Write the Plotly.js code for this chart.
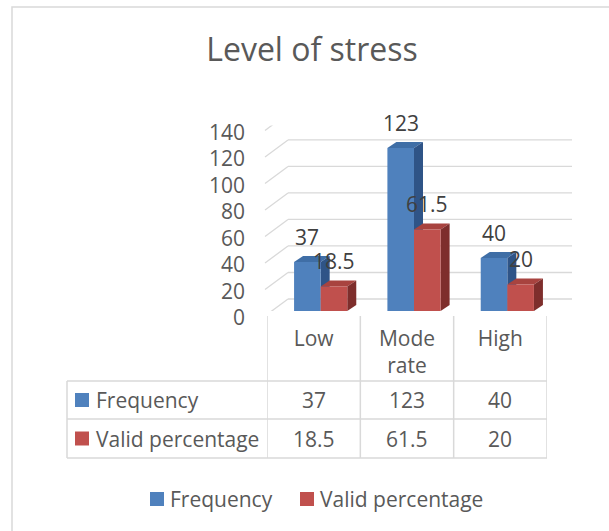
<!DOCTYPE html>
<html>
<head>
<meta charset="utf-8">
<script src="https://cdn.plot.ly/plotly-3.0.1.min.js"></script>
<style>html,body{margin:0;padding:0;background:#fff;}#chart{width:609px;height:531px;}</style>
</head>
<body>
<div id="chart"></div>
<script>
// ---- data ----
const categories = ["Low", "Mode rate", "High"];
const seriesNames = ["Frequency", "Valid percentage"];
const frequency = [37, 123, 40];
const validPercentage = [18.5, 61.5, 20];
const yTicks = [0, 20, 40, 60, 80, 100, 120, 140];
const chartTitle = "Level of stress";

// ---- style ----
const W = 609, H = 531;
const FONT = "Open Sans";
const GRAY = "#595959";
const GRID = "#d9d9d9";
const frontColors = ["#4F81BD", "#C0504D"];
const topColors = ["#3F6EA6", "#A8433F"];
const sideColors = ["#2F5487", "#7E2E2C"];
const barOffsets = [-0.21, 0.075];
const barWidth = 0.285;
const depthX = 9, depthY = 6;
const seriesValues = [frequency, validPercentage];

const px = v => v / W;
const py = v => 1 - v / H;

const traces = seriesValues.map((vals, s) => ({
  type: "bar",
  name: seriesNames[s],
  x: categories,
  y: vals,
  offset: barOffsets[s],
  width: barWidth,
  marker: { color: frontColors[s], line: { width: 0 } },
  hoverinfo: "skip",
  showlegend: false
}));

const shapes = [];
// back-wall gridlines and side-wall diagonals
yTicks.forEach(v => {
  shapes.push({ type: "line", layer: "below", xref: "paper", yref: "y", ysizemode: "pixel", yanchor: v,
    x0: px(288), x1: px(572), y0: 12, y1: 12, line: { color: GRID, width: 1.3 } });
  shapes.push({ type: "line", layer: "below", xref: "paper", yref: "y", ysizemode: "pixel", yanchor: v,
    x0: px(265), x1: px(288), y0: -5, y1: 12, line: { color: GRID, width: 1.3 } });
});
// outer chart border
shapes.push({ type: "rect", layer: "below", xref: "paper", yref: "paper",
  x0: px(12), x1: px(640), y0: py(7), y1: py(560), line: { color: GRID, width: 1.5 }, fillcolor: "rgba(0,0,0,0)" });
// data table rules
const tblL = 67, tblTop = 316, rowLines = [381, 419, 458];
rowLines.forEach(yy => shapes.push({ type: "line", xref: "paper", yref: "paper",
  x0: px(tblL), x1: px(547), y0: py(yy), y1: py(yy), line: { color: GRID, width: 1.5 } }));
shapes.push({ type: "line", xref: "paper", yref: "paper", x0: px(tblL), x1: px(tblL),
  y0: py(381), y1: py(458), line: { color: GRID, width: 1.5 } });
for (let i = 0; i <= categories.length; i++) {
  shapes.push({ type: "line", xref: "x", yref: "paper", x0: i - 0.5, x1: i - 0.5,
    y0: py(tblTop), y1: py(458), line: { color: GRID, width: 1.5 } });
}
// table legend keys
const rowCenters = [400, 438.5];
rowCenters.forEach((yc, s) => shapes.push({ type: "rect", xref: "paper", yref: "paper",
  x0: px(75), x1: px(89), y0: py(yc - 7), y1: py(yc + 7), line: { width: 0 }, fillcolor: frontColors[s] }));
// bottom legend keys
const legendKeyX = [150, 300], legendY = 499;
legendKeyX.forEach((lx, s) => shapes.push({ type: "rect", xref: "paper", yref: "paper",
  x0: px(lx), x1: px(lx + 14), y0: py(legendY - 7), y1: py(legendY + 7), line: { width: 0 }, fillcolor: frontColors[s] }));

const annotations = [];
// data labels
seriesValues.forEach((vals, s) => vals.forEach((v, i) => annotations.push({
  xref: "x", yref: "y", x: i + barOffsets[s] + barWidth / 2, y: v, yshift: 25,
  text: String(v), showarrow: false, xanchor: "center", yanchor: "middle",
  font: { family: FONT, size: 21, color: "#404040" }
})));
// table text
seriesNames.forEach((n, s) => {
  annotations.push({ xref: "paper", yref: "paper", x: px(94), y: py(rowCenters[s]), text: n, showarrow: false,
    xanchor: "left", yanchor: "middle", font: { family: FONT, size: 21, color: GRAY } });
  seriesValues[s].forEach((v, i) => annotations.push({ xref: "x", yref: "paper", x: i, y: py(rowCenters[s]),
    text: String(v), showarrow: false, xanchor: "center", yanchor: "middle",
    font: { family: FONT, size: 21, color: GRAY } }));
});
// bottom legend text
seriesNames.forEach((n, s) => annotations.push({ xref: "paper", yref: "paper", x: px(legendKeyX[s] + 18), y: py(legendY),
  text: n, showarrow: false, xanchor: "left", yanchor: "middle", font: { family: FONT, size: 21, color: GRAY } }));

const layout = {
  width: W, height: H,
  margin: { l: 0, r: 0, t: 0, b: 0 },
  paper_bgcolor: "#fff", plot_bgcolor: "rgba(0,0,0,0)",
  font: { family: FONT, color: GRAY },
  title: { text: chartTitle, font: { family: FONT, size: 32, color: GRAY },
    xref: "paper", yref: "paper", x: px(312), xanchor: "center", y: py(50), yanchor: "middle" },
  barmode: "overlay",
  showlegend: false,
  xaxis: { domain: [px(267), px(547)], range: [-0.5, 2.5], type: "category",
    tickvals: categories, ticktext: categories.map(c => c.split(" ").join("<br>")),
    showgrid: false, zeroline: false, showline: false, ticks: "", ticklabelstandoff: 13,
    tickfont: { family: FONT, size: 21, color: GRAY }, fixedrange: true },
  yaxis: { domain: [py(311), py(125.4)], range: [0, 140], tickvals: yTicks,
    showgrid: false, zeroline: false, showline: false, ticks: "", ticklabelstandoff: 21, ticklabelshift: 7,
    tickfont: { family: FONT, size: 21, color: GRAY }, fixedrange: true },
  shapes: shapes,
  annotations: annotations
};

Plotly.newPlot("chart", traces, layout, { staticPlot: true }).then(gd => {
  const xa = gd._fullLayout.xaxis, ya = gd._fullLayout.yaxis;
  const faces = [];
  seriesValues.forEach((vals, s) => vals.forEach((v, i) => {
    const xl = i + barOffsets[s], xr = xl + barWidth;
    const bw = xa.l2p(xr) - xa.l2p(xl);
    const bh = ya.l2p(0) - ya.l2p(v);
    // top face
    faces.push({ type: "path", layer: "below", xref: "x", yref: "y", xsizemode: "pixel", ysizemode: "pixel",
      xanchor: xl, yanchor: v,
      path: `M0,0 L${bw},0 L${bw + depthX},${depthY} L${depthX},${depthY} Z`,
      fillcolor: topColors[s], line: { width: 0 } });
    // side face
    faces.push({ type: "path", layer: "below", xref: "x", yref: "y", xsizemode: "pixel", ysizemode: "pixel",
      xanchor: xr, yanchor: v,
      path: `M0,0 L${depthX},${depthY} L${depthX},${depthY - bh} L0,${-bh} Z`,
      fillcolor: sideColors[s], line: { width: 0 } });
  }));
  return Plotly.relayout(gd, { shapes: shapes.concat(faces) });
});
</script>
</body>
</html>
